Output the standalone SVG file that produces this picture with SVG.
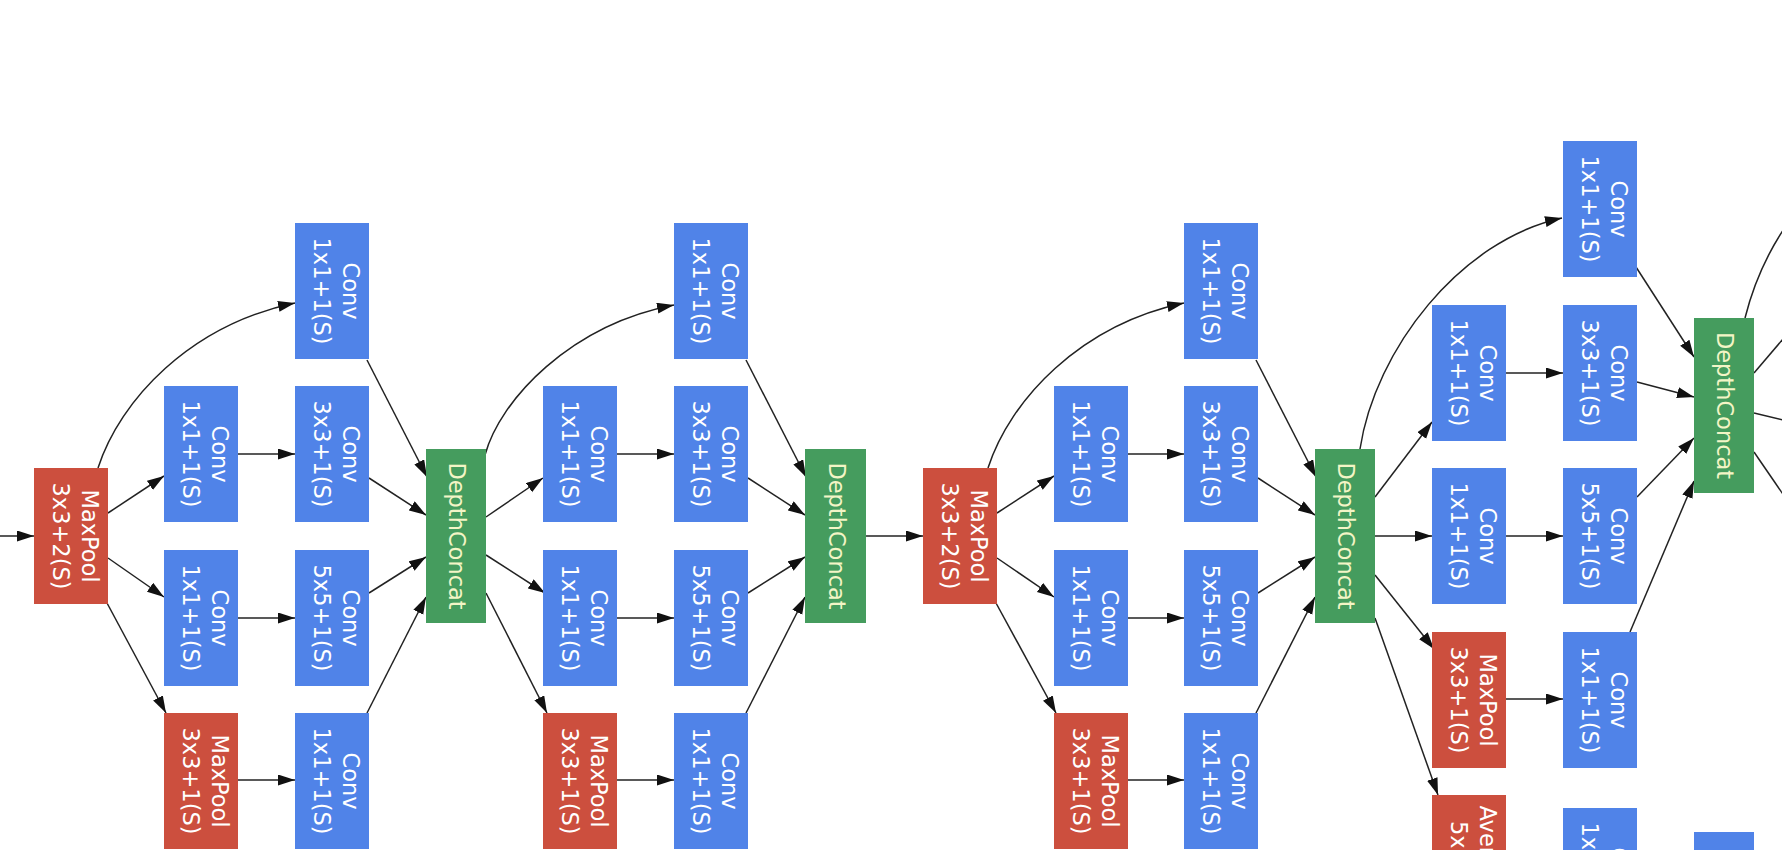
<svg xmlns="http://www.w3.org/2000/svg" width="1782" height="850" viewBox="0 0 1782 850">
<style>
.conv{fill:#5083E8}
.pool{fill:#CC4F3E}
.cat{fill:#459C5E}
.t{font-family:"DejaVu Sans",Verdana,sans-serif;font-size:22.5px;fill:#FFFFFF;text-anchor:middle}
.tc{font-family:"DejaVu Sans",Verdana,sans-serif;font-size:22.5px;fill:#F3F5C6;text-anchor:middle}
.e{fill:none;stroke:#222222;stroke-width:1.5}
.ea{fill:none;stroke:#222222;stroke-width:1.5;marker-end:url(#ah)}
</style>
<defs>
<marker id="ah" markerUnits="userSpaceOnUse" markerWidth="18" markerHeight="12" refX="17" refY="5.5" orient="auto">
<path d="M0,0 L17,5.5 L0,11 z" fill="#111111"/>
</marker>
</defs>
<rect width="1782" height="850" fill="#FFFFFF"/>

<g id="edges">
<path class="ea" d="M0,536 L34,536"/>
<!-- module 3a -->
<path class="ea" d="M98,468 C120,400 190,325 295,303"/>
<path class="ea" d="M108,513 L164,476"/>
<path class="ea" d="M108,558 L164,597"/>
<path class="ea" d="M107,603 L166,713"/>
<path class="ea" d="M238,454 L295,454"/>
<path class="ea" d="M238,618 L295,618"/>
<path class="ea" d="M238,780 L295,780"/>
<path class="ea" d="M367,360 L427,477"/>
<path class="ea" d="M369,478 L426,515"/>
<path class="ea" d="M369,593 L426,557"/>
<path class="ea" d="M367,713 L426,597"/>
<!-- module 3b -->
<path class="ea" d="M485,455 C500,400 570,325 674,305"/>
<path class="ea" d="M486,517 L543,478"/>
<path class="ea" d="M486,555 L545,593"/>
<path class="ea" d="M486,593 L547,713"/>
<path class="ea" d="M617,454 L674,454"/>
<path class="ea" d="M617,618 L674,618"/>
<path class="ea" d="M617,780 L674,780"/>
<path class="ea" d="M746,360 L806,477"/>
<path class="ea" d="M748,478 L805,515"/>
<path class="ea" d="M748,593 L805,557"/>
<path class="ea" d="M746,713 L805,597"/>
<path class="ea" d="M866,536 L923,536"/>
<!-- module 4a -->
<path class="ea" d="M988,468 C1010,400 1080,325 1184,303"/>
<path class="ea" d="M997,513 L1054,476"/>
<path class="ea" d="M997,558 L1054,597"/>
<path class="ea" d="M996,603 L1056,713"/>
<path class="ea" d="M1128,454 L1184,454"/>
<path class="ea" d="M1128,618 L1184,618"/>
<path class="ea" d="M1128,780 L1184,780"/>
<path class="ea" d="M1256,360 L1316,477"/>
<path class="ea" d="M1258,478 L1315,515"/>
<path class="ea" d="M1258,593 L1315,557"/>
<path class="ea" d="M1256,713 L1315,597"/>
<!-- module 4b -->
<path class="ea" d="M1360,449 C1375,350 1460,240 1562,218"/>
<path class="ea" d="M1375,497 L1432,422"/>
<path class="ea" d="M1375,536 L1432,536"/>
<path class="ea" d="M1375,575 L1434,649"/>
<path class="ea" d="M1375,618 L1438,795"/>
<path class="ea" d="M1506,373 L1563,373"/>
<path class="ea" d="M1506,536 L1563,536"/>
<path class="ea" d="M1506,699 L1563,699"/>
<path class="ea" d="M1636,267 L1694,357"/>
<path class="ea" d="M1637,382 L1694,397"/>
<path class="ea" d="M1637,497 L1694,438"/>
<path class="ea" d="M1630,632 L1694,481"/>
<!-- leaving DC4 -->
<path class="e" d="M1745,318 C1752,290 1765,255 1790,220"/>
<path class="e" d="M1754,373 L1800,319"/>
<path class="e" d="M1754,413 L1800,424"/>
<path class="e" d="M1754,452 L1800,519"/>
</g>

<!-- module 3a -->
<g id="maxpool_1"><rect class="pool" x="34" y="468" width="74" height="136"/><text class="t" transform="translate(71,536) rotate(90)"><tspan x="0" y="-11">MaxPool</tspan><tspan x="0" y="18">3x3+2(S)</tspan></text></g>
<g id="i3a_c1r2"><rect class="conv" x="164" y="386" width="74" height="136"/><text class="t" transform="translate(201,454) rotate(90)"><tspan x="0" y="-11">Conv</tspan><tspan x="0" y="18">1x1+1(S)</tspan></text></g>
<g id="i3a_c1r3"><rect class="conv" x="164" y="550" width="74" height="136"/><text class="t" transform="translate(201,618) rotate(90)"><tspan x="0" y="-11">Conv</tspan><tspan x="0" y="18">1x1+1(S)</tspan></text></g>
<g id="i3a_c1r4"><rect class="pool" x="164" y="713" width="74" height="136"/><text class="t" transform="translate(201,781) rotate(90)"><tspan x="0" y="-11">MaxPool</tspan><tspan x="0" y="18">3x3+1(S)</tspan></text></g>
<g id="i3a_c2r1"><rect class="conv" x="295" y="223" width="74" height="136"/><text class="t" transform="translate(332,291) rotate(90)"><tspan x="0" y="-11">Conv</tspan><tspan x="0" y="18">1x1+1(S)</tspan></text></g>
<g id="i3a_c2r2"><rect class="conv" x="295" y="386" width="74" height="136"/><text class="t" transform="translate(332,454) rotate(90)"><tspan x="0" y="-11">Conv</tspan><tspan x="0" y="18">3x3+1(S)</tspan></text></g>
<g id="i3a_c2r3"><rect class="conv" x="295" y="550" width="74" height="136"/><text class="t" transform="translate(332,618) rotate(90)"><tspan x="0" y="-11">Conv</tspan><tspan x="0" y="18">5x5+1(S)</tspan></text></g>
<g id="i3a_c2r4"><rect class="conv" x="295" y="713" width="74" height="136"/><text class="t" transform="translate(332,781) rotate(90)"><tspan x="0" y="-11">Conv</tspan><tspan x="0" y="18">1x1+1(S)</tspan></text></g>
<g id="depthconcat_1"><rect class="cat" x="426" y="449" width="60" height="174"/><text class="tc" transform="translate(456,536) rotate(90)" y="7">DepthConcat</text></g>

<!-- module 3b -->
<g id="i3b_c1r2"><rect class="conv" x="543" y="386" width="74" height="136"/><text class="t" transform="translate(580,454) rotate(90)"><tspan x="0" y="-11">Conv</tspan><tspan x="0" y="18">1x1+1(S)</tspan></text></g>
<g id="i3b_c1r3"><rect class="conv" x="543" y="550" width="74" height="136"/><text class="t" transform="translate(580,618) rotate(90)"><tspan x="0" y="-11">Conv</tspan><tspan x="0" y="18">1x1+1(S)</tspan></text></g>
<g id="i3b_c1r4"><rect class="pool" x="543" y="713" width="74" height="136"/><text class="t" transform="translate(580,781) rotate(90)"><tspan x="0" y="-11">MaxPool</tspan><tspan x="0" y="18">3x3+1(S)</tspan></text></g>
<g id="i3b_c2r1"><rect class="conv" x="674" y="223" width="74" height="136"/><text class="t" transform="translate(711,291) rotate(90)"><tspan x="0" y="-11">Conv</tspan><tspan x="0" y="18">1x1+1(S)</tspan></text></g>
<g id="i3b_c2r2"><rect class="conv" x="674" y="386" width="74" height="136"/><text class="t" transform="translate(711,454) rotate(90)"><tspan x="0" y="-11">Conv</tspan><tspan x="0" y="18">3x3+1(S)</tspan></text></g>
<g id="i3b_c2r3"><rect class="conv" x="674" y="550" width="74" height="136"/><text class="t" transform="translate(711,618) rotate(90)"><tspan x="0" y="-11">Conv</tspan><tspan x="0" y="18">5x5+1(S)</tspan></text></g>
<g id="i3b_c2r4"><rect class="conv" x="674" y="713" width="74" height="136"/><text class="t" transform="translate(711,781) rotate(90)"><tspan x="0" y="-11">Conv</tspan><tspan x="0" y="18">1x1+1(S)</tspan></text></g>
<g id="depthconcat_2"><rect class="cat" x="805" y="449" width="61" height="174"/><text class="tc" transform="translate(835.5,536) rotate(90)" y="7">DepthConcat</text></g>

<g id="maxpool_2"><rect class="pool" x="923" y="468" width="74" height="136"/><text class="t" transform="translate(960,536) rotate(90)"><tspan x="0" y="-11">MaxPool</tspan><tspan x="0" y="18">3x3+2(S)</tspan></text></g>

<!-- module 4a -->
<g id="i4a_c1r2"><rect class="conv" x="1054" y="386" width="74" height="136"/><text class="t" transform="translate(1091,454) rotate(90)"><tspan x="0" y="-11">Conv</tspan><tspan x="0" y="18">1x1+1(S)</tspan></text></g>
<g id="i4a_c1r3"><rect class="conv" x="1054" y="550" width="74" height="136"/><text class="t" transform="translate(1091,618) rotate(90)"><tspan x="0" y="-11">Conv</tspan><tspan x="0" y="18">1x1+1(S)</tspan></text></g>
<g id="i4a_c1r4"><rect class="pool" x="1054" y="713" width="74" height="136"/><text class="t" transform="translate(1091,781) rotate(90)"><tspan x="0" y="-11">MaxPool</tspan><tspan x="0" y="18">3x3+1(S)</tspan></text></g>
<g id="i4a_c2r1"><rect class="conv" x="1184" y="223" width="74" height="136"/><text class="t" transform="translate(1221,291) rotate(90)"><tspan x="0" y="-11">Conv</tspan><tspan x="0" y="18">1x1+1(S)</tspan></text></g>
<g id="i4a_c2r2"><rect class="conv" x="1184" y="386" width="74" height="136"/><text class="t" transform="translate(1221,454) rotate(90)"><tspan x="0" y="-11">Conv</tspan><tspan x="0" y="18">3x3+1(S)</tspan></text></g>
<g id="i4a_c2r3"><rect class="conv" x="1184" y="550" width="74" height="136"/><text class="t" transform="translate(1221,618) rotate(90)"><tspan x="0" y="-11">Conv</tspan><tspan x="0" y="18">5x5+1(S)</tspan></text></g>
<g id="i4a_c2r4"><rect class="conv" x="1184" y="713" width="74" height="136"/><text class="t" transform="translate(1221,781) rotate(90)"><tspan x="0" y="-11">Conv</tspan><tspan x="0" y="18">1x1+1(S)</tspan></text></g>
<g id="depthconcat_3"><rect class="cat" x="1315" y="449" width="60" height="174"/><text class="tc" transform="translate(1345,536) rotate(90)" y="7">DepthConcat</text></g>

<!-- module 4b -->
<g id="i4b_cAr2"><rect class="conv" x="1432" y="305" width="74" height="136"/><text class="t" transform="translate(1469,373) rotate(90)"><tspan x="0" y="-11">Conv</tspan><tspan x="0" y="18">1x1+1(S)</tspan></text></g>
<g id="i4b_cAr3"><rect class="conv" x="1432" y="468" width="74" height="136"/><text class="t" transform="translate(1469,536) rotate(90)"><tspan x="0" y="-11">Conv</tspan><tspan x="0" y="18">1x1+1(S)</tspan></text></g>
<g id="i4b_cAr4"><rect class="pool" x="1432" y="632" width="74" height="136"/><text class="t" transform="translate(1469,700) rotate(90)"><tspan x="0" y="-11">MaxPool</tspan><tspan x="0" y="18">3x3+1(S)</tspan></text></g>
<g id="aux_avgpool"><rect class="pool" x="1432" y="795" width="74" height="160"/><text class="t" transform="translate(1469,875) rotate(90)"><tspan x="0" y="-11">AveragePool</tspan><tspan x="0" y="18">5x5+3(V)</tspan></text></g>
<g id="i4b_cBr1"><rect class="conv" x="1563" y="141" width="74" height="136"/><text class="t" transform="translate(1600,209) rotate(90)"><tspan x="0" y="-11">Conv</tspan><tspan x="0" y="18">1x1+1(S)</tspan></text></g>
<g id="i4b_cBr2"><rect class="conv" x="1563" y="305" width="74" height="136"/><text class="t" transform="translate(1600,373) rotate(90)"><tspan x="0" y="-11">Conv</tspan><tspan x="0" y="18">3x3+1(S)</tspan></text></g>
<g id="i4b_cBr3"><rect class="conv" x="1563" y="468" width="74" height="136"/><text class="t" transform="translate(1600,536) rotate(90)"><tspan x="0" y="-11">Conv</tspan><tspan x="0" y="18">5x5+1(S)</tspan></text></g>
<g id="i4b_cBr4"><rect class="conv" x="1563" y="632" width="74" height="136"/><text class="t" transform="translate(1600,700) rotate(90)"><tspan x="0" y="-11">Conv</tspan><tspan x="0" y="18">1x1+1(S)</tspan></text></g>
<g id="aux_conv"><rect class="conv" x="1563" y="808" width="74" height="136"/><text class="t" transform="translate(1600,876) rotate(90)"><tspan x="0" y="-11">Conv</tspan><tspan x="0" y="18">1x1+1(S)</tspan></text></g>
<g id="depthconcat_4"><rect class="cat" x="1694" y="318" width="60" height="175"/><text class="tc" transform="translate(1724,405.5) rotate(90)" y="7">DepthConcat</text></g>
<g id="aux_fc"><rect class="conv" x="1694" y="832" width="60" height="86"/></g>
</svg>
